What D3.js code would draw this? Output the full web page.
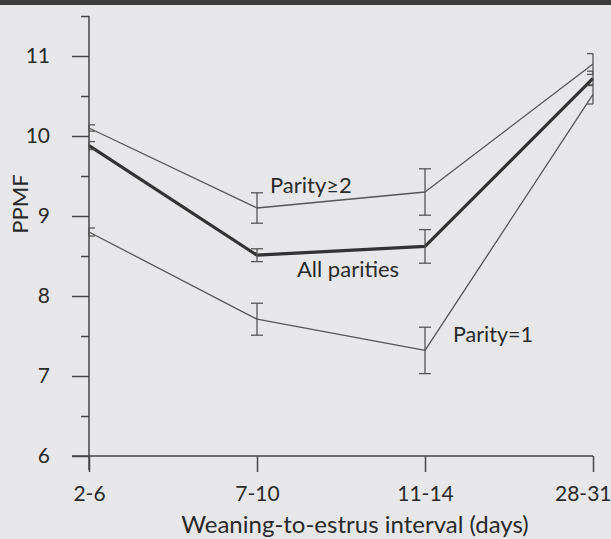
<!DOCTYPE html>
<html>
<head>
  <script src="https://d3js.org/d3.v7.min.js"></script>
  <style>
    body { margin: 0; background: #e7e7e9; }
    svg { display: block; }
    text { font-family: Lato, "Open Sans", sans-serif; fill: #2a2a2a; }
    .axis path { display: none; }
    .axis line { stroke: #444; stroke-width: 1.5px; }
    .axis text { font-size: 21px; fill: #2a2a2a; }
  </style>
</head>
<body>
  <script>
    // categories along the x axis
    var categories = ["2-6", "7-10", "11-14", "28-31"];

    // series means and error bar half-widths (PPMF)
    var parity2 = [10.1, 9.1, 9.3, 10.9];
    var parity2Err = [0.04, 0.19, 0.29, 0.13];
    var allParities = [9.88, 8.51, 8.62, 10.72];
    var allParitiesErr = [0.05, 0.08, 0.21, 0.09];
    var parity1 = [8.8, 7.71, 7.32, 10.52];
    var parity1Err = [0.05, 0.2, 0.29, 0.12];

    var yTicks = [6, 7, 8, 9, 10, 11];
    var yMinorTicks = [6.5, 7.5, 8.5, 9.5, 10.5, 11.5];

    var width = 611;
    var height = 539;
    var svg = d3.select("body").append("svg")
        .attr("width", width)
        .attr("height", height);

    // dark band across the top
    svg.append("rect")
        .attr("width", width)
        .attr("height", 5)
        .attr("fill", "#3c3c3c");

    var x = d3.scalePoint()
        .domain(categories)
        .range([89, 593]);
    var y = d3.scaleLinear()
        .domain([6, 11.5])
        .range([456, 16]);

    // y axis: major ticks with labels, minor ticks without
    svg.append("g")
        .attr("class", "y axis")
        .attr("transform", "translate(" + x(categories[0]) + ",0)")
        .call(d3.axisLeft(y).tickValues(yTicks).tickSize(17).tickPadding(22).tickFormat(d3.format("d")));
    svg.append("g")
        .attr("class", "y axis")
        .attr("transform", "translate(" + x(categories[0]) + ",0)")
        .call(d3.axisLeft(y).tickValues(yMinorTicks).tickSize(8).tickFormat(""));

    // x axis
    var xAxis = svg.append("g")
        .attr("class", "x axis")
        .attr("transform", "translate(0," + y(6) + ")")
        .call(d3.axisBottom(x).tickSize(16).tickPadding(14));
    // last label sits flush with the right edge
    xAxis.selectAll(".tick text")
        .filter(function(d) { return d === categories[categories.length - 1]; })
        .attr("text-anchor", "end")
        .attr("x", 18);

    // axis lines, extended past the corner as in the original
    svg.append("line")
        .attr("x1", x(categories[0])).attr("x2", x(categories[0]))
        .attr("y1", y(11.5)).attr("y2", y(6) + 14)
        .attr("stroke", "#444").attr("stroke-width", 1.5);
    svg.append("line")
        .attr("x1", x(categories[0]) - 17).attr("x2", x(categories[3]))
        .attr("y1", y(6)).attr("y2", y(6))
        .attr("stroke", "#444").attr("stroke-width", 1.5);

    var series = [
      { name: "Parity≥2", values: parity2, errs: parity2Err, width: 1.3, color: "#555" },
      { name: "Parity=1", values: parity1, errs: parity1Err, width: 1.3, color: "#555" },
      { name: "All parities", values: allParities, errs: allParitiesErr, width: 3.2, color: "#333" }
    ];

    var line = d3.line()
        .x(function(d) { return x(d.cat); })
        .y(function(d) { return y(d.v); });

    series.forEach(function(s) {
      var pts = categories.map(function(c, i) { return { cat: c, v: s.values[i], e: s.errs[i], i: i }; });

      svg.append("path")
          .datum(pts)
          .attr("fill", "none")
          .attr("stroke", s.color)
          .attr("stroke-width", s.width)
          .attr("stroke-linejoin", "round")
          .attr("d", line);

      // error bars; end points only show half caps against the frame
      var cap = 6;
      var g = svg.selectAll(null)
          .data(pts)
        .enter().append("g")
          .attr("stroke", "#555")
          .attr("stroke-width", 1.3);
      g.append("line")
          .attr("x1", function(d) { return x(d.cat); })
          .attr("x2", function(d) { return x(d.cat); })
          .attr("y1", function(d) { return y(d.v + d.e); })
          .attr("y2", function(d) { return y(d.v - d.e); });
      [1, -1].forEach(function(sign) {
        g.append("line")
            .attr("x1", function(d) { return x(d.cat) - (d.i === 0 ? 0 : cap); })
            .attr("x2", function(d) { return x(d.cat) + (d.i === categories.length - 1 ? 0 : cap); })
            .attr("y1", function(d) { return y(d.v + sign * d.e); })
            .attr("y2", function(d) { return y(d.v + sign * d.e); });
      });
    });

    // series labels placed near their lines
    svg.append("text")
        .attr("x", x("7-10") + 13)
        .attr("y", y(parity2[1]) - 15)
        .attr("font-size", 22)
        .text("Parity≥2");
    svg.append("text")
        .attr("x", x("7-10") + 40)
        .attr("y", y(allParities[1]) + 22)
        .attr("font-size", 22)
        .text("All parities");
    svg.append("text")
        .attr("x", x("11-14") + 28)
        .attr("y", y(parity1[2]) - 8)
        .attr("font-size", 21.5)
        .text("Parity=1");

    // axis titles
    svg.append("text")
        .attr("x", 355)
        .attr("y", 533)
        .attr("text-anchor", "middle")
        .attr("font-size", 24)
        .text("Weaning-to-estrus interval (days)");
    svg.append("text")
        .attr("transform", "translate(28,204) rotate(-90)")
        .attr("text-anchor", "middle")
        .attr("font-size", 22)
        .text("PPMF");
  </script>
</body>
</html>
